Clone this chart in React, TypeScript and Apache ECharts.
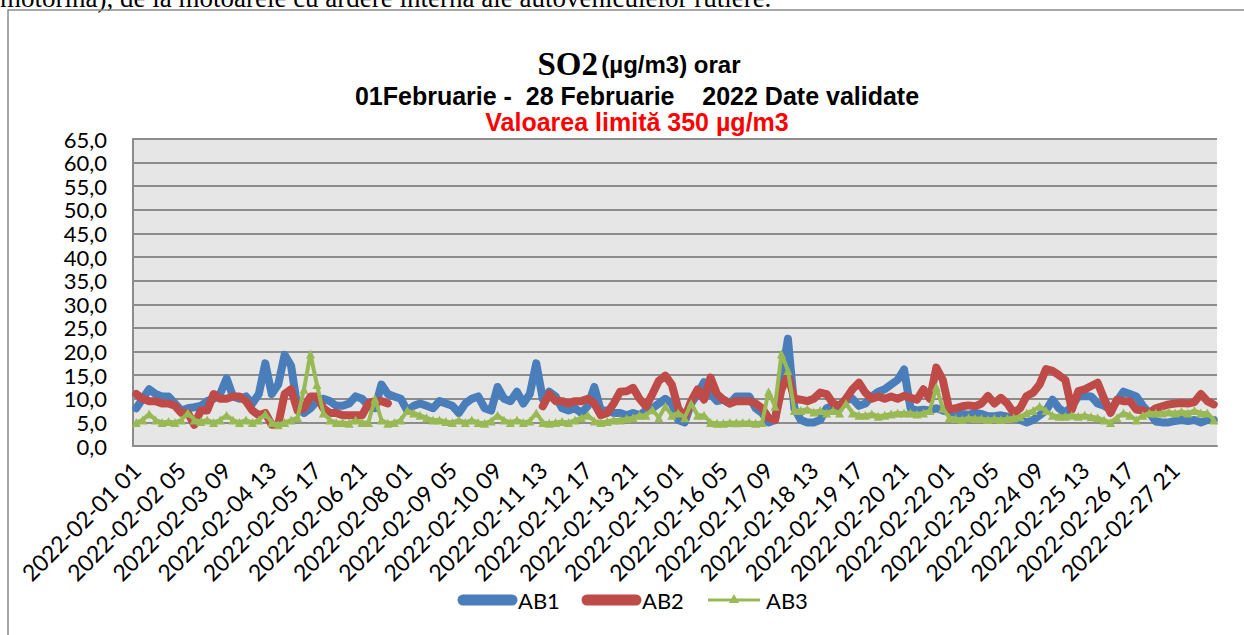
import React, { useEffect, useRef } from "react";
import * as echarts from "echarts";

const days = ["01","02","03","04","05","06","07","08","09","10","11","12","13","14","15","16","17","18","19","20","21","22","23","24","25","26","27","28"];
const hoursOfDay = ["01", "05", "09", "13", "17", "21"];
const categories: string[] = [];
days.forEach((d) => hoursOfDay.forEach((h) => categories.push(`2022-02-${d} ${h}`)));

const yTicks = { min: 0, max: 65, interval: 5 };

const ab1 = [
  8, 10, 12, 11, 10.5, 10.5, 9, 7.5, 8, 8.2, 8.5, 9.5, 10, 11, 14.3, 10.5, 10, 10.5, 9, 11,
  17.5, 11, 13, 19.3, 17, 8, 7, 8, 9.5, 10, 9.5, 8.5, 8.5, 9, 10.5, 10, 8.5, 8, 13, 11,
  10.5, 10, 7.5, 8.5, 9, 8.5, 8, 9.5, 9, 8.5, 7, 9, 10, 10.5, 8, 7.5, 12.5, 10, 9.5, 11.5,
  9, 11, 17.5, 10, 11.5, 10.5, 8, 7.5, 8, 7, 8.5, 12.5, 7.5, 7.5, 7, 7, 6.5, 7, 6.5, 7.5,
  8, 9, 10, 9, 5.5, 5, 9, 11, 13.5, 11, 9.5, 9.8, 9, 10.5, 10.5, 10.5, 8, 7, 5, 5.5,
  14, 22.7, 8, 5.5, 5, 5, 5.5, 8, 8.5, 8, 9.8, 10, 8.5, 9, 10.5, 11.5, 12, 13, 14, 16.2,
  8, 7.5, 7.7, 7.5, 8, 7.5, 7.2, 7, 6.8, 6.6, 7, 6.8, 6.3, 6.3, 6.5, 6.2, 6, 5.5, 5, 5.5,
  6.5, 7.5, 9.8, 8, 7, 8.5, 10.5, 10.6, 10.5, 9, 8.5, 7.7, 9.5, 11.5, 11, 10.5, 8.5, 7, 5.2, 5,
  5, 5.3, 5.5, 5.3, 5.5, 5, 5.5, 5.5,
];

const ab2 = [
  11, 10, 9.5, 9.5, 9, 9, 8.5, 7, 7, 4.5, 7.5, 7.5, 11, 10, 10, 10.5, 10.5, 9.5, 7.5, 6.5,
  7, 4.5, 4.5, 11, 12, 7.5, 8, 10.5, 10.5, 8, 7, 7, 6.5, 6.5, 6.5, 6.5, 9, 9.5, 9.5, 9,
  null, null, null, null, null, null, null, null, null, null, null, null, null, null, null, null, null, null, null, null,
  null, null, null, 8.4, 11, 9.5, 9.5, 9, 9.5, 9.5, 10, 9, 6.5, 7, 9, 11.5, 11.6, 12.3, 10, 8.4,
  11, 13.8, 14.9, 13, 8, 6, 9.5, 12, 9.8, 14.5, 11, 9.8, 9, 9.5, 9.5, 9.5, 9, 8, 6, 5.5,
  12, 15, 10, 9.8, 9.5, 10, 11.3, 11, 9, 8.5, 10, 12, 13.4, 11.3, 10, 10.5, 10, 10.5, 10, 10.6,
  10.2, 9.8, 12, 10, 16.6, 14, 7.7, 8, 8.4, 8.6, 8.4, 9, 10.6, 9, 10.2, 9, 7, 8, 10.6, 11.3,
  13, 16.3, 15.9, 15, 14, 7.7, 11.6, 12, 12.7, 13.4, 10, 7, 9.8, 9.5, 9.5, 7.7, 7.5, 7, 8, 8.4,
  8.8, 9, 9.1, 9, 9.3, 11, 9.5, 8.8,
];

const ab3 = [
  5, 5.5, 6.8, 5.5, 5, 5.2, 5, 5.5, 7, 5.5, 5.2, 5.5, 5, 5.5, 6.5, 5.5, 5, 5.5, 5, 5.5,
  6.8, 5, 4.5, 5, 5.5, 6, 12, 19.5, 13, 7, 5.5, 5, 5, 4.8, 5.5, 5, 5, 10, 5.5, 4.8,
  5, 5.5, 7.5, 7, 6.5, 6, 5.5, 5.5, 5.2, 5, 5.5, 5, 5.5, 5, 4.8, 5.3, 6.5, 5.5, 5, 5.5,
  5, 5.3, 7, 5, 4.8, 5, 5.2, 5, 5.5, 6, 6.5, 5.3, 5, 5.2, 5.5, 5.5, 5.8, 6, 6.5, 6.5,
  7.7, 6, 8.4, 6.5, 7, 6, 9, 6.5, 6.5, 5, 4.8, 4.8, 5, 4.9, 5, 5, 4.8, 5, 11.5, 8.4,
  19.5, 16, 7.5, 7.5, 7.8, 7.2, 7.5, 7, 7.5, 7, 9, 7, 6.5, 6.5, 6.8, 6.3, 6.5, 6.8, 7, 7,
  7, 6.8, 7, 7.5, 12.5, 8, 6, 5.8, 5.6, 6, 5.8, 5.8, 5.6, 5.8, 5.6, 5.8, 6, 6.2, 7, 7.5,
  8.4, 7.5, 6.5, 6.3, 6.3, 6.5, 6.3, 6.5, 6.2, 6, 5.5, 5, 6, 7, 6.5, 5.5, 6.5, 7, 7, 7,
  7.2, 7, 7.3, 7, 7.5, 7, 7, 5.5,
];

const seriesNames = ["AB1", "AB2", "AB3"];
const colors = ["#4a7ebb", "#be4b48", "#98b954"];

const titleLine1 = ["SO2", "(µg/m3)", "orar"];
const titleLine2 = "01Februarie -  28 Februarie    2022 Date validate";
const titleLine3 = "Valoarea limită 350 µg/m3";
const docText = "motorină), de la motoarele cu ardere internă ale autovehiculelor rutiere.";

export default function App() {
  const ref = useRef<HTMLDivElement>(null);
  useEffect(() => {
    if (!ref.current) return;
    const chart = echarts.init(ref.current, null, { renderer: "svg" });
    const legendY = 600;
    chart.setOption({
      animation: false,
      backgroundColor: "#ffffff",
      grid: {
        left: 133,
        right: 27,
        top: 139,
        bottom: 189,
        show: true,
        backgroundColor: "#e6e6e6",
        borderWidth: 0,
      },
      xAxis: {
        type: "category",
        data: categories,
        boundaryGap: true,
        axisLine: { show: true, lineStyle: { color: "#8c8c8c", width: 2 } },
        axisTick: { show: false },
        axisLabel: {
          interval: 6,
          rotate: 45,
          margin: 20,
          color: "#000",
          fontFamily: "Lato",
          fontSize: 23,
          lineHeight: 20,
        },
        splitLine: { show: false },
      },
      yAxis: {
        type: "value",
        min: yTicks.min,
        max: yTicks.max,
        interval: yTicks.interval,
        axisLine: { show: true, lineStyle: { color: "#8c8c8c", width: 2 } },
        axisTick: { show: false },
        axisLabel: {
          margin: 26,
          color: "#000",
          fontFamily: "Lato",
          fontSize: 22,
          lineHeight: 20,
          formatter: (v: number) => v.toFixed(1).replace(".", ","),
        },
        splitLine: { show: true, lineStyle: { color: "#8c8c8c", width: 2 } },
      },
      series: [
        {
          name: seriesNames[0],
          type: "line",
          data: ab1,
          showSymbol: false,
          symbol: "none",
          lineStyle: { color: colors[0], width: 8, join: "round", cap: "round" },
          itemStyle: { color: colors[0] },
        },
        {
          name: seriesNames[1],
          type: "line",
          data: ab2,
          showSymbol: false,
          symbol: "none",
          connectNulls: false,
          lineStyle: { color: colors[1], width: 8, join: "round", cap: "round" },
          itemStyle: { color: colors[1] },
        },
        {
          name: seriesNames[2],
          type: "line",
          data: ab3,
          symbol: "triangle",
          symbolSize: 9,
          showAllSymbol: true,
          lineStyle: { color: colors[2], width: 4, join: "round" },
          itemStyle: { color: colors[2] },
        },
      ],
      graphic: [
        {
          type: "text",
          x: 0,
          y: 11,
          style: {
            text: docText,
            font: "27px 'Liberation Serif'",
            fill: "#000",
            verticalAlign: "bottom",
          },
        },
        {
          type: "rect",
          shape: { x: 8, y: 10, width: 1300, height: 700 },
          style: { fill: "none", stroke: "#8a8a8a", lineWidth: 1.5 },
        },
        {
          type: "text",
          x: 639,
          y: 64,
          style: {
            text: `{a|${titleLine1[0]}} {b|${titleLine1[1]} ${titleLine1[2]}}`,
            align: "center",
            verticalAlign: "middle",
            rich: {
              a: { fontFamily: "Liberation Serif", fontWeight: "bold", fontSize: 33, fill: "#000" },
              b: { fontFamily: "Liberation Sans", fontWeight: "bold", fontSize: 24, fill: "#000" },
            },
          },
        },
        {
          type: "text",
          x: 637,
          y: 96,
          style: {
            text: titleLine2,
            align: "center",
            verticalAlign: "middle",
            font: "bold 25px 'Liberation Sans'",
            fill: "#000",
          },
        },
        {
          type: "text",
          x: 637,
          y: 122,
          style: {
            text: titleLine3,
            align: "center",
            verticalAlign: "middle",
            font: "bold 25px 'Liberation Sans'",
            fill: "#ff0000",
          },
        },
        {
          type: "line",
          shape: { x1: 463, y1: legendY, x2: 512, y2: legendY },
          style: { stroke: colors[0], lineWidth: 11, lineCap: "round" },
        },
        {
          type: "text",
          x: 518,
          y: legendY,
          style: { text: seriesNames[0], font: "22px Lato", fill: "#000", verticalAlign: "middle" },
        },
        {
          type: "line",
          shape: { x1: 587, y1: legendY, x2: 636, y2: legendY },
          style: { stroke: colors[1], lineWidth: 11, lineCap: "round" },
        },
        {
          type: "text",
          x: 642,
          y: legendY,
          style: { text: seriesNames[1], font: "22px Lato", fill: "#000", verticalAlign: "middle" },
        },
        {
          type: "line",
          shape: { x1: 708, y1: legendY, x2: 760, y2: legendY },
          style: { stroke: colors[2], lineWidth: 3 },
        },
        {
          type: "polygon",
          shape: { points: [[734, legendY - 6], [739, legendY + 3], [729, legendY + 3]] },
          style: { fill: colors[2] },
        },
        {
          type: "text",
          x: 766,
          y: legendY,
          style: { text: seriesNames[2], font: "22px Lato", fill: "#000", verticalAlign: "middle" },
        },
      ],
    });
    return () => chart.dispose();
  }, []);
  return (
    <div
      ref={ref}
      style={{ position: "absolute", left: 0, top: 0, width: 1244, height: 635 }}
    />
  );
}
